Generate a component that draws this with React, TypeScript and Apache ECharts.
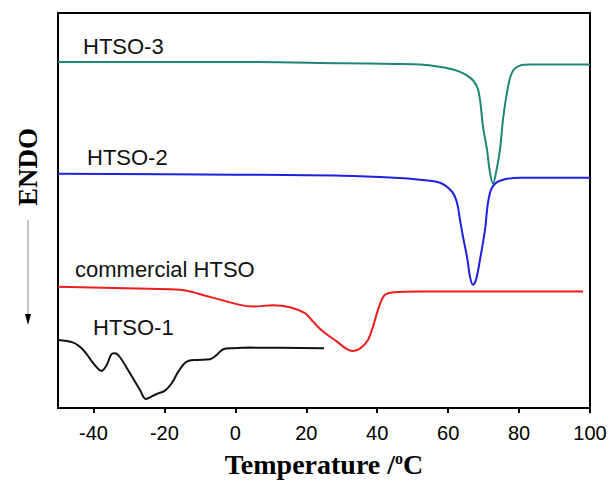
import React, { useEffect, useRef } from "react";
import * as echarts from "echarts";

// Temperature (°C) / heat-flow (arbitrary units)
const htso3T = [-50, 0, 30, 45, 52.07, 61.37, 66.17, 68.14, 68.98, 69.83, 70.96, 71.8, 72.65, 73.49, 74.62, 75.47, 76.6, 78.0, 80.26, 83.08, 100];
const htso3V = [87.6, 87.6, 87.3, 87.1, 86.95, 85.68, 83.65, 81.37, 78.07, 71.23, 65.4, 59.57, 56.78, 59.57, 65.4, 73.0, 79.85, 84.92, 86.69, 86.95, 86.95];

const htso2T = [-50, 0, 30, 45, 52.07, 57.7, 61.09, 62.5, 63.34, 64.19, 65.32, 66.17, 67.0, 67.86, 68.98, 70.39, 71.24, 72.37, 74.62, 80.26, 100];
const htso2V = [59.32, 59.06, 58.8, 58.3, 57.8, 57.03, 54.75, 51.97, 47.66, 43.35, 38.28, 33.21, 31.18, 32.45, 37.52, 45.12, 51.97, 55.77, 57.54, 58.3, 58.3];

const commT = [-50, -24.06, -15.6, -7.14, 1.32, 4.98, 10.62, 15.41, 19.64, 21.9, 24.72, 28.66, 31.48, 33.17, 35.15, 37.4, 38.81, 40.22, 41.91, 44.17, 52.07, 98.03];
const commV = [30.67, 30.17, 29.91, 28.14, 26.11, 25.68, 26.03, 25.53, 24.0, 21.88, 19.34, 16.81, 14.88, 14.45, 15.03, 17.24, 20.61, 24.84, 28.39, 29.23, 29.48, 29.48];

const htso1T = [-50, -45.69, -42.87, -40.05, -37.68, -36.27, -34.86, -33.93, -32.52, -29.7, -26.88, -25.27, -24.06, -22.17, -19.83, -17.94, -16.08, -13.71, -10.89, -7.14, -5.25, -3.39, -0.57, 4.13, 25.0];
const htso1V = [17.2, 16.55, 14.7, 11.33, 9.38, 10.9, 13.69, 13.87, 12.85, 8.8, 4.56, 2.28, 2.71, 3.55, 4.39, 6.26, 9.2, 11.74, 12.17, 12.34, 13.43, 14.88, 15.13, 15.29, 15.13];

const xTicks = [-40, -20, 0, 20, 40, 60, 80, 100];
const seriesNames = ["HTSO-3", "HTSO-2", "commercial HTSO", "HTSO-1"];
const seriesColors = ["#1d8677", "#1f1fe0", "#ee1c1c", "#111111"];

const zip = (a: number[], b: number[]) => a.map((v, i) => [v, b[i]]);

export default function App() {
  const ref = useRef<HTMLDivElement>(null);
  useEffect(() => {
    if (!ref.current) return;
    const chart = echarts.init(ref.current, undefined, { renderer: "svg" });
    const data = [zip(htso3T, htso3V), zip(htso2T, htso2V), zip(commT, commV), zip(htso1T, htso1V)];
    const labelPos = [
      { x: 83, y: 47 },
      { x: 87, y: 158 },
      { x: 75, y: 270 },
      { x: 93, y: 328 },
    ];
    chart.setOption({
      animation: false,
      grid: {
        left: 58,
        right: 18,
        top: 13,
        bottom: 73,
        outerBoundsMode: "none",
        containLabel: false,
        show: true,
        borderColor: "#000",
        borderWidth: 2,
      },
      xAxis: {
        type: "value",
        min: -50,
        max: 100,
        name: "Temperature /{sup|o}C",
        nameLocation: "middle",
        nameGap: 42,
        nameTextStyle: {
          fontFamily: "Liberation Serif",
          fontWeight: "bold",
          fontSize: 28,
          color: "#000",
          rich: {
            sup: {
              fontFamily: "Liberation Serif",
              fontWeight: "bold",
              fontSize: 16,
              color: "#000",
              verticalAlign: "top",
              padding: [0, 0, 10, 0],
            },
          },
        },
        axisLine: { lineStyle: { color: "#000", width: 2 } },
        axisTick: { show: true, inside: false, length: 5, lineStyle: { color: "#000", width: 2 }, customValues: xTicks },
        axisLabel: { customValues: xTicks, color: "#000", fontFamily: "Liberation Sans", fontSize: 20, margin: 15 },
        splitLine: { show: false },
      },
      yAxis: {
        type: "value",
        min: 0,
        max: 100,
        axisLine: { show: false },
        axisTick: { show: false },
        axisLabel: { show: false },
        splitLine: { show: false },
      },
      series: data.map((d, i) => ({
        type: "line",
        name: seriesNames[i],
        data: d,
        showSymbol: false,
        smooth: 0.35,
        lineStyle: { color: seriesColors[i], width: 2 },
        itemStyle: { color: seriesColors[i] },
      })),
      graphic: [
        ...seriesNames.map((n, i) => ({
          type: "text",
          left: labelPos[i].x,
          top: labelPos[i].y - 12,
          style: { text: n, fontFamily: "Liberation Sans", fontSize: 22, fill: "#111" },
        })),
        {
          type: "text",
          x: 28,
          y: 167,
          rotation: Math.PI / 2,
          style: {
            text: "ENDO",
            fontFamily: "Liberation Serif",
            fontWeight: "bold",
            fontSize: 27,
            fill: "#000",
            align: "center",
            verticalAlign: "middle",
          },
        },
        {
          type: "line",
          shape: { x1: 28, y1: 220, x2: 28, y2: 316 },
          style: { stroke: "#888", lineWidth: 1 },
        },
        {
          type: "polygon",
          shape: { points: [[25, 314], [31, 314], [28, 325]] },
          style: { fill: "#000" },
        },
      ],
    });
    return () => chart.dispose();
  }, []);
  return <div ref={ref} style={{ position: "absolute", left: 0, top: 0, width: 608, height: 481 }} />;
}
